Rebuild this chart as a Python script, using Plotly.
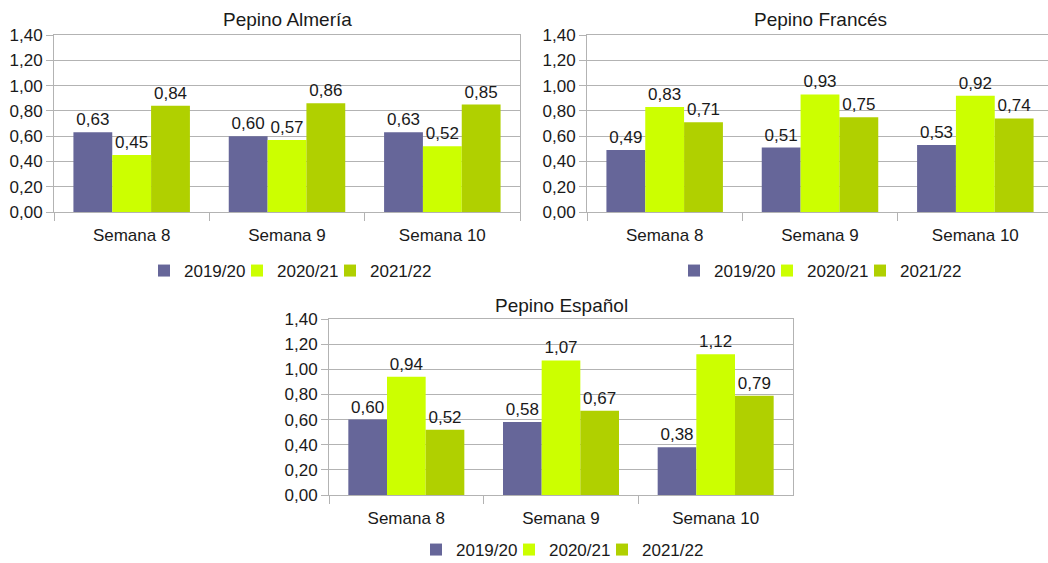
import plotly.graph_objects as go

categories = ["Semana 8", "Semana 9", "Semana 10"]
seasons = ["2019/20", "2020/21", "2021/22"]
colors = ["#666699", "#ccff00", "#b0d000"]

titles = ["Pepino Almería", "Pepino Francés", "Pepino Español"]

almeria = {
    "2019/20": [0.63, 0.60, 0.63],
    "2020/21": [0.45, 0.57, 0.52],
    "2021/22": [0.84, 0.86, 0.85],
}
frances = {
    "2019/20": [0.49, 0.51, 0.53],
    "2020/21": [0.83, 0.93, 0.92],
    "2021/22": [0.71, 0.75, 0.74],
}
espanol = {
    "2019/20": [0.60, 0.58, 0.38],
    "2020/21": [0.94, 1.07, 1.12],
    "2021/22": [0.52, 0.67, 0.79],
}
y_ticks = [0, 0.2, 0.4, 0.6, 0.8, 1.0, 1.2, 1.4]

datasets = [almeria, frances, espanol]

W, H = 1048, 563
FONT = "Liberation Sans, Arial, sans-serif"
TXT = "#1a1a1a"
GRID = "#b3b3b3"

fig = go.Figure()

axis_suffix = ["", "2", "3"]
legend_names = ["legend", "legend2", "legend3"]
entry_widths = [48, 48, 62]

for i, data in enumerate(datasets):
    for s, c, ew in zip(seasons, colors, entry_widths):
        fig.add_trace(go.Bar(
            x=categories, y=data[s], name=s,
            marker=dict(color=c, line=dict(width=0)),
            text=data[s], texttemplate="%{y:.2f}", textposition="outside",
            textfont=dict(size=17, color=TXT, family=FONT),
            cliponaxis=False,
            xaxis="x" + axis_suffix[i], yaxis="y" + axis_suffix[i],
            legend=legend_names[i], legendwidth=ew,
            hoverinfo="skip",
        ))

def px_x(p):
    return p / W

def px_y(p):
    return 1 - p / H

boxes = [(54, 520, 35, 212), (587, 1048, 35, 212), (329, 793, 319, 495)]
cat_w = (520 - 54) / 3.0
ranges = [[-0.5, 2.5], [-0.5, -0.5 + (1048 - 587) / cat_w], [-0.5, 2.5]]

layout = dict(
    width=W, height=H,
    margin=dict(l=0, r=0, t=0, b=0, pad=0, autoexpand=False),
    paper_bgcolor="white", plot_bgcolor="white",
    separators=",.",
    barmode="group", bargap=0.25, bargroupgap=0,
    font=dict(family=FONT, size=17, color=TXT),
    showlegend=True,
)

for i, (l, r, t, b) in enumerate(boxes):
    sfx = axis_suffix[i]
    layout["xaxis" + sfx] = dict(
        domain=[px_x(l), px_x(r)], anchor="y" + sfx,
        type="category", range=ranges[i], automargin=False,
        showline=True, linecolor=GRID, linewidth=1, mirror=True,
        ticks="outside", tickson="boundaries", ticklen=8, tickcolor=GRID,
        showgrid=False, tickfont=dict(size=17, color=TXT),
        ticklabelstandoff=8, fixedrange=True,
    )
    layout["yaxis" + sfx] = dict(
        domain=[px_y(b), px_y(t)], anchor="x" + sfx, automargin=False,
        range=[0, 1.4], tickvals=y_ticks, tickformat=".2f",
        showline=True, linecolor=GRID, linewidth=1, mirror=True,
        ticks="outside", ticklen=7, tickcolor=GRID,
        showgrid=True, gridcolor=GRID, gridwidth=1,
        zeroline=False, tickfont=dict(size=17, color=TXT), fixedrange=True,
    )

legend_pos = [(144, 271), (674, 271), (416, 550)]
for i, (lx, ly) in enumerate(legend_pos):
    layout[legend_names[i]] = dict(
        orientation="h", x=px_x(lx), y=px_y(ly),
        xanchor="left", yanchor="middle",
        font=dict(size=17, color=TXT), itemwidth=30,
        entrywidthmode="pixels",
        bgcolor="rgba(0,0,0,0)", traceorder="normal",
    )

title_pos = [(287, 20), (820, 20), (561, 305)]
annotations = []
for t, (tx, ty) in zip(titles, title_pos):
    annotations.append(dict(
        text=t, x=px_x(tx), y=px_y(ty), xref="paper", yref="paper",
        xanchor="center", yanchor="middle", showarrow=False,
        font=dict(size=19, color=TXT, family=FONT),
    ))
layout["annotations"] = annotations

fig.update_layout(**layout)
fig.write_html(
    "out.html",
    config={"displayModeBar": False, "staticPlot": True},
    post_script="document.body.style.margin='0';document.body.style.overflow='hidden';",
)
